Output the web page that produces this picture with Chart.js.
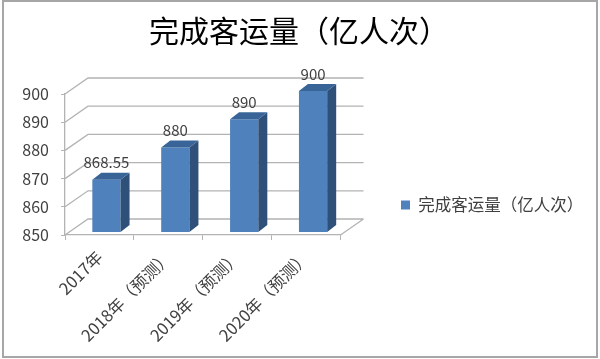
<!DOCTYPE html>
<html><head><meta charset="utf-8">
<script src="https://cdn.jsdelivr.net/npm/chart.js@4"></script>
<style>
html,body{margin:0;padding:0;background:#fff;overflow:hidden}
#c{position:absolute;left:0;top:0}
</style></head><body>
<canvas id="c" width="600" height="359"></canvas>
<script>
const categories=['2017年','2018年（预测）','2019年（预测）','2020年（预测）'];
const seriesName='完成客运量（亿人次）';
const values=[868.55,880,890,900];
const valueLabels=['868.55','880','890','900'];
const yMin=850,yMax=900,yStep=10;
const FONT='"Noto Sans CJK SC","Liberation Sans",sans-serif';
const depth={dx:23,dy:-16},bar={dx:7,dy:-3,sx:9,sy:-7};
const frame={id:'frame',beforeDraw(ch){const c=ch.ctx;c.save();c.strokeStyle='#a6a6a6';c.lineWidth=2;
 c.strokeRect(3,1,594,356);c.restore();}};
const walls={id:'walls',beforeDatasetsDraw(ch){
 const c=ch.ctx,y=ch.scales.y,a=ch.chartArea;c.save();c.strokeStyle='#b3b3b3';c.lineWidth=1.3;c.beginPath();
 for(let v=yMin;v<=yMax;v+=yStep){const p=y.getPixelForValue(v);
  c.moveTo(a.left,p);c.lineTo(a.left+depth.dx,p+depth.dy);c.lineTo(a.right+depth.dx,p+depth.dy);}
 const b=y.getPixelForValue(yMin);c.moveTo(a.right,b);c.lineTo(a.right+depth.dx,b+depth.dy);
 c.stroke();c.restore();
 c.save();c.translate(bar.dx,bar.dy);
}};
const faces={id:'faces',afterDatasetsDraw(ch){
 const c=ch.ctx,m=ch.getDatasetMeta(0),b=ch.scales.y.getPixelForValue(yMin);
 m.data.forEach(e=>{const h=e.width/2,l=e.x-h,r=e.x+h,t=e.y;
  c.fillStyle='#2f5079';c.beginPath();c.moveTo(r,t);c.lineTo(r+bar.sx,t+bar.sy);c.lineTo(r+bar.sx,b+bar.sy);c.lineTo(r,b);c.closePath();c.fill();
  c.fillStyle='#386498';c.beginPath();c.moveTo(l,t);c.lineTo(l+bar.sx,t+bar.sy);c.lineTo(r+bar.sx,t+bar.sy);c.lineTo(r,t);c.closePath();c.fill();
 });
 c.restore();
 c.save();c.fillStyle='#404040';c.font='15px '+FONT;c.textAlign='center';c.textBaseline='middle';
 m.data.forEach((e,i)=>c.fillText(valueLabels[i],e.x+bar.dx,e.y+bar.dy-17));
 c.restore();
}};
const place={id:'place',afterUpdate(ch){const L=ch.legend,dy=205-(L.top+L.bottom)/2;
 L.left=394;L.right=600;L.width=206;L.top+=dy;L.bottom+=dy;L.adjustHitBoxes&&L.adjustHitBoxes();
 const T=ch.titleBlock;T.left=0;T.right=598;T.width=598;}};
new Chart(document.getElementById('c'),{type:'bar',
 data:{labels:categories,datasets:[{label:seriesName,data:values,backgroundColor:'#4f81bd',barPercentage:0.41,categoryPercentage:1}]},
 options:{responsive:false,animation:false,
  layout:{padding:{left:0,right:146,top:0,bottom:0}},
  plugins:{
   title:{display:true,text:seriesName,color:'#000',font:{family:FONT,size:30,weight:'normal'},padding:{top:13,bottom:45}},
   legend:{position:'right',labels:{color:'#404040',font:{family:FONT,size:16.5},boxWidth:9,boxHeight:9,padding:7}},
   tooltip:{enabled:false}},
  scales:{
   x:{offset:true,afterFit(s){s.height=124},grid:{drawOnChartArea:false,drawTicks:true,tickLength:5,color:'#b3b3b3',offset:true},border:{color:'#b3b3b3',width:1.3},
      ticks:{color:'#404040',font:{family:FONT,size:16.5},minRotation:45,maxRotation:45,padding:7}},
   y:{min:yMin,max:yMax,afterFit(s){s.width=65},grid:{drawOnChartArea:false,drawTicks:true,tickLength:4,color:'#b3b3b3'},border:{color:'#b3b3b3',width:1.3},
      ticks:{stepSize:yStep,color:'#404040',font:{family:FONT,size:16},padding:12}}
  }},
 plugins:[frame,walls,faces,place]
});
</script></body></html>
